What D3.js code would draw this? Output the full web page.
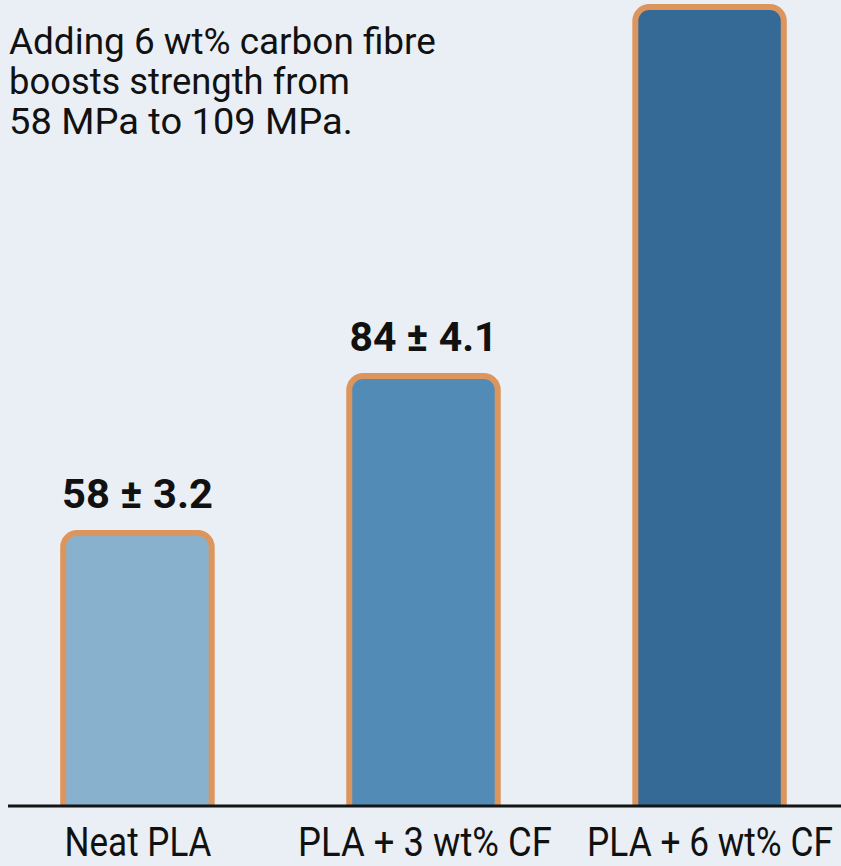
<!DOCTYPE html>
<html>
<head>
<meta charset="utf-8">
<script src="https://cdn.jsdelivr.net/npm/d3@7"></script>
<style>
  html, body { margin: 0; padding: 0; background: #e9eff4; }
  svg { display: block; }
  text { font-family: Roboto, "Open Sans", sans-serif; fill: #111; }
</style>
</head>
<body>
<div id="chart"></div>
<script>
// data
var categories = ["Neat PLA", "PLA + 3 wt% CF", "PLA + 6 wt% CF"];
var strength = [58, 84, 109];          // MPa
var errors = [3.2, 4.1, null];          // last label is cut off in the picture
var barColors = ["#88b1ce", "#538bb7", "#346a95"];
var titleLines = ["Adding 6 wt% carbon fibre", "boosts strength from", "58 MPa to 109 MPa."];

var w = 841, h = 866;
var baseY = 806;

var svg = d3.select("#chart").append("svg")
    .attr("width", w)
    .attr("height", h);

svg.append("rect").attr("width", w).attr("height", h).attr("fill", "#e9eff4");

var xScale = d3.scaleBand()
    .domain(categories)
    .range([3, 844])
    .paddingInner(0.46)
    .paddingOuter(0.2);

// bars in the picture are not drawn to a single linear scale, so map through the drawn tops
var yScale = d3.scaleLinear()
    .domain([0, 58, 84, 109])
    .range([baseY, 530, 373, 4]);

svg.append("clipPath").attr("id", "clip")
    .append("rect").attr("x", 0).attr("y", 0).attr("width", w).attr("height", baseY);

var sw = 6;
svg.append("g").attr("clip-path", "url(#clip)")
    .selectAll("rect")
    .data(strength)
    .enter()
    .append("rect")
    .attr("x", (d, i) => xScale(categories[i]) + sw / 2)
    .attr("y", d => yScale(d) + sw / 2)
    .attr("width", xScale.bandwidth() - sw)
    .attr("height", d => baseY - yScale(d) + 30)
    .attr("rx", 14)
    .attr("fill", (d, i) => barColors[i])
    .attr("stroke", "#dd955e")
    .attr("stroke-width", sw);

// baseline
svg.append("line")
    .attr("x1", 8).attr("x2", w)
    .attr("y1", baseY).attr("y2", baseY)
    .attr("stroke", "#151515")
    .attr("stroke-width", 3);

// condensed look: squeeze text horizontally to a target width
function squeezed(x, y, str, size, target, anchor, weight) {
    var t = svg.append("text")
        .attr("font-size", size)
        .attr("font-weight", weight || "normal")
        .attr("text-anchor", anchor)
        .text(str);
    var sx = target / t.node().getComputedTextLength();
    t.attr("transform", "translate(" + x + "," + y + ") scale(" + sx + ",1)");
    return t;
}

// value labels
var labelW = [151, 148];
strength.forEach((v, i) => {
    if (errors[i] == null) return;
    squeezed(xScale(categories[i]) + xScale.bandwidth() / 2, yScale(v) - 22,
        v + " \u00b1 " + errors[i], 41, labelW[i], "middle", "bold");
});

// category labels
var catW = [147, 254, 246];
var catX = [138, 425, 710];
categories.forEach((c, i) => {
    squeezed(catX[i], 856, c, 40, catW[i], "middle");
});

// annotation
var titleW = [427, 341, 344];
titleLines.forEach((t, i) => {
    squeezed(9, 54 + i * 40, t, 37, titleW[i], "start");
});
</script>
</body>
</html>
